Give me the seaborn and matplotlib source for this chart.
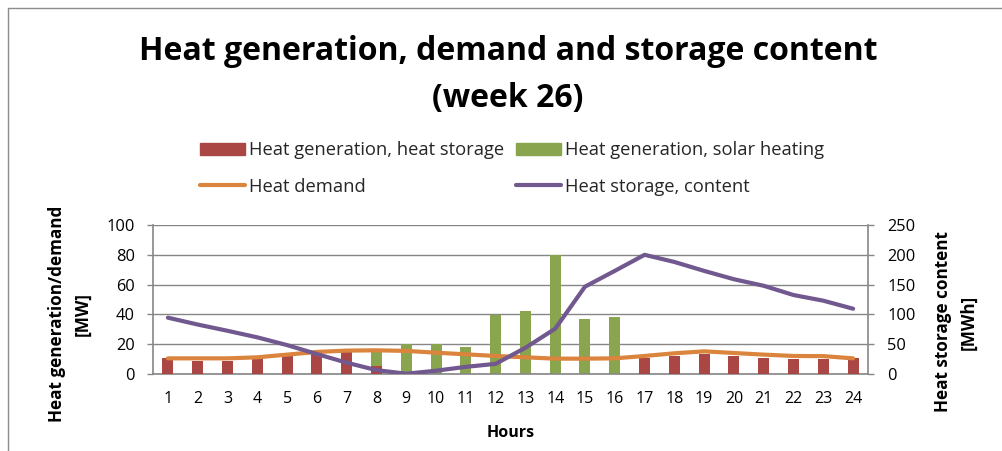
import numpy as np
import pandas as pd
import matplotlib
matplotlib.use("Agg")
import matplotlib.pyplot as plt
from matplotlib.lines import Line2D
from matplotlib.patches import Patch
import seaborn as sns

# Hourly values
hours = [str(h) for h in range(1, 25)]
gen_storage = [11, 9, 9, 10.5, 12.5, 15, 14.5, 5.5, 0, 0, 0, 0,
               0, 0, 0, 0, 10.7, 12.3, 13.2, 11.9, 11, 10.3, 10.3, 10.6]
gen_solar = [0, 0, 0, 0, 0, 0, 0, 9.5, 20, 20, 18, 39.5,
             42.3, 80, 37, 38, 0, 0, 0, 0, 0, 0, 0, 0]
demand = [10.5, 10.5, 10.5, 11.2, 13, 14.8, 15.7, 15.9, 15.5, 14.3, 13.2, 12.1,
          11.2, 10.3, 10.3, 10.5, 12.1, 13.9, 15.2, 14.1, 13, 12.1, 12, 10.5]
storage_content = [94.5, 83, 72.5, 61.5, 48.5, 33.5, 19, 6.5, 0.5, 5.5, 12, 17,
                   44, 76, 146.5, 173, 200, 188, 173, 159, 148, 132.5, 123, 109.5]

labels = ["Heat generation, heat storage", "Heat generation, solar heating",
          "Heat demand", "Heat storage, content"]

sns.set_theme(style="white")
plt.rcParams["font.family"] = ["Open Sans", "DejaVu Sans"]

RED = "#AA4643"
GREEN = "#89A54E"
ORANGE = "#DB843D"
PURPLE = "#71588F"
GRID = "#868686"
TXT = "#000000"

fig = plt.figure(figsize=(10.03, 4.51), dpi=100)
ax = fig.add_axes([153 / 1003, 77 / 451, 715 / 1003, 149 / 451])

df = pd.DataFrame({"hour": hours, "storage": gen_storage, "solar": gen_solar})
df["total"] = df["storage"] + df["solar"]

# stacked columns: total in green, heat-storage part drawn over it in red
sns.barplot(data=df, x="hour", y="total", color=GREEN, width=0.37, linewidth=0,
            saturation=1, errorbar=None, ax=ax, zorder=2)
sns.barplot(data=df, x="hour", y="storage", color=RED, width=0.37, linewidth=0,
            saturation=1, errorbar=None, ax=ax, zorder=3)

pos = np.arange(len(hours))
sns.lineplot(x=pos, y=demand, color=ORANGE, lw=3.0, ax=ax, zorder=4,
             solid_capstyle="round")

ax2 = ax.twinx()
sns.lineplot(x=pos, y=storage_content, color=PURPLE, lw=3.0, ax=ax2,
             solid_capstyle="round")

# axes limits and ticks
ax.set_xlim(-0.5, 23.5)
ax.set_ylim(0, 100)
ax.set_yticks(range(0, 101, 20))
ax2.set_ylim(0, 250)
ax2.set_yticks(range(0, 251, 50))
ax.set_xticks(pos, hours)
ax.set_xticks(np.arange(-0.5, 24, 1), minor=True)

ax.set_xlabel("")
ax.set_ylabel("")
ax2.set_xlabel("")
ax2.set_ylabel("")

ax.yaxis.grid(True, color=GRID, lw=1)
ax.set_axisbelow(True)

for s in ["top", "right"]:
    ax.spines[s].set_visible(False)
for s in ["top", "left", "bottom"]:
    ax2.spines[s].set_visible(False)
for s in ["left", "bottom"]:
    ax.spines[s].set_color(GRID)
    ax.spines[s].set_linewidth(1.2)
ax2.spines["right"].set_color(GRID)
ax2.spines["right"].set_linewidth(1.2)

ax.tick_params(axis="x", which="major", length=0, pad=12, labelsize=11.5, labelcolor=TXT)
ax.tick_params(axis="x", which="minor", length=4.5, width=1, color=GRID, direction="out")
ax.tick_params(axis="y", length=4, width=1, color=GRID, direction="out", pad=9,
               labelsize=11.8, labelcolor=TXT, left=True)
ax2.tick_params(axis="y", length=4, width=1, color=GRID, direction="out", pad=10,
                labelsize=11.8, labelcolor=TXT, right=True)

# titles and axis titles
fig.text(508 / 1003, 1 - 52 / 451, "Heat generation, demand and storage content",
         ha="center", va="center", fontsize=23, weight="bold", color=TXT)
fig.text(508 / 1003, 1 - 99 / 451, "(week 26)",
         ha="center", va="center", fontsize=23, weight="bold", color=TXT)

fig.text(57 / 1003, 1 - 314 / 451, "Heat generation/demand", rotation=90,
         ha="center", va="center", fontsize=12.3, weight="bold", color=TXT)
fig.text(83 / 1003, 1 - 314 / 451, "[MW]", rotation=90,
         ha="center", va="center", fontsize=12.3, weight="bold", color=TXT)
fig.text(943 / 1003, 1 - 322 / 451, "Heat storage content", rotation=90,
         ha="center", va="center", fontsize=12.3, weight="bold", color=TXT)
fig.text(969 / 1003, 1 - 322 / 451, "[MWh]", rotation=90,
         ha="center", va="center", fontsize=12.3, weight="bold", color=TXT)
fig.text(511 / 1003, 1 - 433 / 451, "Hours", ha="center", va="center",
         fontsize=11.5, weight="bold", color=TXT)

# legend, two columns
handles = [Patch(color=RED), Line2D([], [], color=ORANGE, lw=3.0),
           Patch(color=GREEN), Line2D([], [], color=PURPLE, lw=3.0)]
leg_labels = [labels[0], labels[2], labels[1], labels[3]]
fig.legend(handles, leg_labels, ncol=2, loc="center",
           bbox_to_anchor=(512 / 1003, 1 - 168.5 / 451), frameon=False,
           fontsize=13.2, handlelength=2.45, handleheight=0.62, handletextpad=0.22,
           columnspacing=0.65, labelspacing=1.0, borderpad=0)

# chart-area border
fig.add_artist(Line2D([8 / 1003, 1], [1 - 8 / 451, 1 - 8 / 451],
                      color="#8C8C8C", lw=1, transform=fig.transFigure))
fig.add_artist(Line2D([8 / 1003, 8 / 1003], [0, 1 - 8 / 451],
                      color="#8C8C8C", lw=1, transform=fig.transFigure))

fig.savefig("out.png", dpi=100)
